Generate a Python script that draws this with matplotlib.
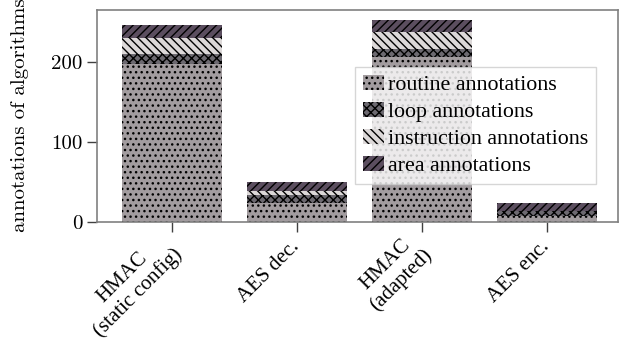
import matplotlib
matplotlib.use("Agg")
import matplotlib.pyplot as plt
import matplotlib.transforms as mtrans
import numpy as np

categories = ["HMAC\n(static config)", "AES dec.", "HMAC\n(adapted)", "AES enc."]
routine = [198, 24, 206, 7]
loop = [12, 10, 11, 6]
instruction = [20, 5, 21, 0]
area = [17, 11, 15, 11]

series_names = ["routine annotations", "loop annotations",
                "instruction annotations", "area annotations"]
colors = ["#a29c9f", "#6c6970", "#dcd8d8", "#5b4e5f"]
hatches = ["...", "xxxx", "\\\\\\\\", "////"]

plt.rcParams['hatch.linewidth'] = 1.0
plt.rcParams['hatch.color'] = 'black'

fig = plt.figure(figsize=(6.21, 3.41), dpi=100)
ax = fig.add_axes([0.1567, 0.35, 0.8385, 0.622])

x = np.arange(len(categories))
bottom = np.zeros(len(categories))
for vals, name, c, h in zip([routine, loop, instruction, area], series_names, colors, hatches):
    ax.bar(x, vals, 0.8, bottom=bottom, color=c, hatch=h, label=name,
           edgecolor='black', linewidth=0)
    bottom += np.array(vals)

ax.set_xlim(-0.595, 3.57)
ax.set_ylim(0, 266)
ax.set_yticks([0, 100, 200])
ax.set_xticks(x)
ax.set_xticklabels(categories, rotation=45, ha='right', va='center',
                   rotation_mode='anchor', multialignment='center',
                   family='Liberation Serif', fontsize=15)
shift = mtrans.ScaledTranslation(-6 / 100, 0, fig.dpi_scale_trans)
for lab in ax.get_xticklabels():
    lab.set_transform(lab.get_transform() + shift)
for lab in ax.get_yticklabels():
    lab.set_family('cmr10')
    lab.set_fontsize(15)
ax.set_ylabel("annotations of algorithms", family='cmr10', fontsize=15, labelpad=16)

for s in ax.spines.values():
    s.set_color('#808080')
    s.set_linewidth(1.2)
ax.tick_params(colors='#404040', labelcolor='black', length=7, width=1)
ax.tick_params(axis='x', pad=9.3)

ax.legend(loc='lower left', bbox_to_anchor=(0.495, 0.178), borderaxespad=0,
          prop={'family': 'Liberation Serif', 'size': 15.8},
          framealpha=0.8, edgecolor='#cccccc', fancybox=False,
          handlelength=0.95, handletextpad=0.22, labelspacing=0.3,
          borderpad=0.35)

fig.savefig("out.png", dpi=100)
